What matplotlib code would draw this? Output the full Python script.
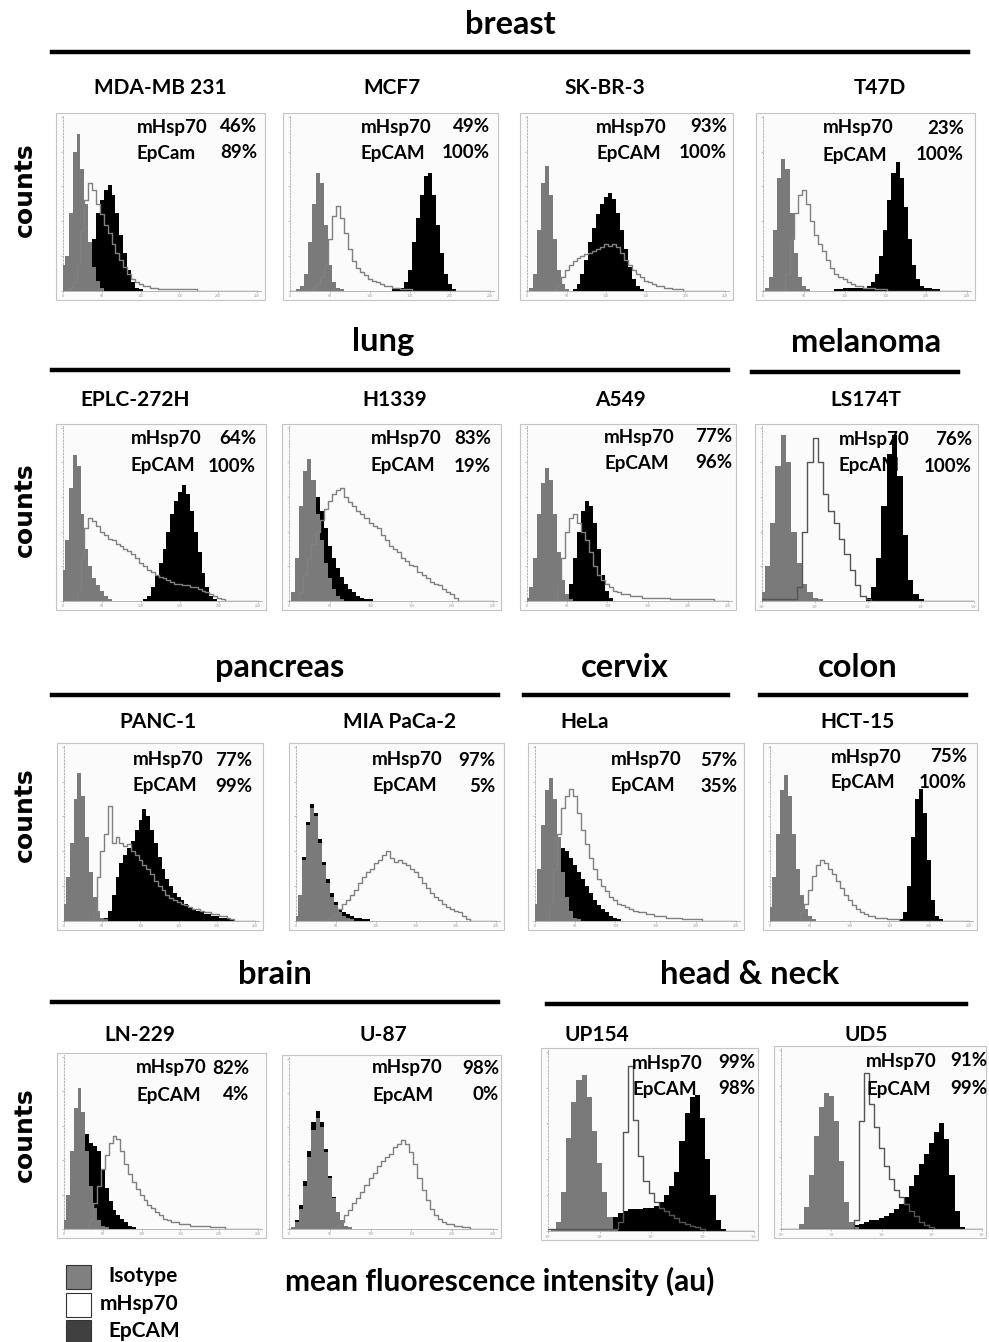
import numpy as np
import matplotlib.pyplot as plt
from matplotlib.patches import Rectangle
from matplotlib.lines import Line2D

plt.rcParams['font.family'] = ['Lato', 'DejaVu Sans']

W, H = 989, 1342

# histogram bins: linear panels 0..250 step 5, log panels 10^0..10^4 step 0.1 decade
lin_bins = np.arange(0, 251, 5)
log_bins = np.round(np.arange(0, 4.01, 0.1), 1)

# curve heights in % of the panel height, one value per bin (trailing zeros left out)
mda_iso = [15,20,45,80,90,70,50,28,14,6,2]
mda_hsp = [0,0,2,5,15,35,52,62,58,50,44,38,33,27,22,18,14,10,7,5,4,3,3,2,2,1,1,1,1,1,1,1,1,1,1]
mda_ep = [0,0,0,0,0,0,3,10,30,45,52,58,61,55,45,32,22,12,5,2,1]

mcf_iso = [0,0,1,3,10,28,50,68,62,38,15,5,2,1]
mcf_hsp = [0,0,0,0,0,0,2,4,8,15,30,43,49,42,33,24,17,13,11,9,7,6,5,4,3,3,2,2,1,1,1]
mcf_ep = [0,0,0,0,0,0,0,0,0,0,0,0,0,0,0,0,0,0,0,0,0,0,0,0,0,0,1,1,2,5,12,28,42,55,66,68,55,38,22,10,4,1]

sk_iso = [0,2,10,35,62,72,55,30,12,4,1]
sk_hsp = [0,0,0,0,0,0,0,1,4,8,12,15,17,19,20,21,22,23,24,25,27,26,27,25,22,18,15,12,10,8,6,5,4,3,3,2,2,1,1,1]
sk_ep = [0,0,0,0,0,0,0,0,0,0,0,0,1,4,10,18,28,36,44,50,54,56,53,45,35,24,14,7,3,1]

t47_iso = [0,2,8,35,65,76,70,45,22,8,3,1]
t47_hsp = [0,0,0,0,0,0,10,30,45,55,58,50,40,32,27,23,18,13,10,8,7,5,4,3,3,2,2,2,1,1,1]
t47_ep = [0,0,0,0,0,0,0,0,0,0,0,0,0,0,0,0,0,0,1,1,2,2,2,2,2,2,3,5,10,20,35,52,68,74,65,48,30,15,7,3,2,2,1,1]

eplc_iso = [18,35,65,84,78,50,30,20,13,9,6,3,1]
eplc_hsp = [0,0,0,0,5,25,42,48,46,43,40,38,36,35,33,32,30,29,27,25,22,20,18,17,15,14,13,12,11,10,10,9,9,8,8,7,6,5,4,3,2,1]
eplc_ep = [0,0,0,0,0,0,0,0,0,0,0,0,0,0,0,0,0,0,0,0,0,1,3,8,15,22,30,40,50,58,63,67,62,52,40,28,16,8,3,1]

h13_iso = [0,5,25,55,75,82,70,50,35,22,13,7,3,1]
h13_hsp = [0,0,0,5,15,25,33,40,47,53,58,62,64,65,60,57,55,52,50,48,45,43,42,38,35,32,30,28,25,23,21,20,17,15,13,11,10,9,7,5,4,2]
h13_ep = [0,0,15,40,60,70,68,60,52,42,32,25,19,14,10,7,5,3,2,1,1]

a549_iso = [2,8,25,50,68,77,70,50,28,12,4,1]
a549_hsp = [0,0,0,0,0,0,0,0,10,25,40,48,50,45,40,35,28,20,15,12,10,8,6,5,4,4,3,3,3,2,2,2,2,2,2,2,1,1,1,1,1,1,1,1,1,1,1]
a549_ep = [0,0,0,0,0,0,0,0,0,0,3,10,25,40,52,58,55,45,30,15,6,2]

ls_iso = [5,20,45,78,96,80,40,22,10,5,2,1]
ls_hsp = [1,1,1,1,1,1,1,8,40,80,94,80,62,52,45,36,27,18,9,3,1]
ls_ep = [0,0,0,0,0,0,0,0,0,0,0,0,0,0,0,0,0,0,0,0,2,8,25,55,85,96,72,38,12,4,1]

panc_iso = [10,25,45,70,85,72,48,28,14,6,2,1]
panc_hsp = [0,0,0,0,0,0,0,0,5,25,40,50,66,45,48,45,43,44,40,38,35,32,30,27,23,20,18,15,13,12,11,10,9,8,7,7,6,5,5,4,4,3,3,2,1]
panc_ep = [0,0,0,0,0,0,0,0,0,0,0,2,6,15,25,33,38,42,46,52,58,64,60,52,45,37,30,24,20,16,14,12,10,8,7,6,5,4,4,3,3,2,2,1,1]

mia_iso = [3,15,35,55,65,60,45,32,22,14,9,5,3,2,1]
mia_hsp = [0,0,0,0,0,0,0,0,1,2,4,7,10,12,15,18,22,25,28,30,33,35,38,40,36,34,35,33,32,30,28,25,22,19,16,14,12,10,8,7,6,5,3,1]
mia_ep = [3,15,37,57,67,62,47,34,24,16,11,7,5,4,3,2,2,1,1]

hela_iso = [10,30,55,75,82,70,48,28,14,6,2,1]
hela_hsp = [0,0,0,0,10,30,50,65,72,76,72,62,52,44,36,30,24,20,17,14,12,10,9,8,7,6,5,5,4,4,3,3,3,2,2,2,2,1,1,1,1,1]
hela_ep = [8,25,45,55,55,50,46,42,40,36,32,28,24,20,16,12,9,7,5,3,2,1]

hct_iso = [8,25,50,75,84,72,50,30,15,7,3,1]
hct_hsp = [0,0,0,0,0,0,0,0,5,10,18,26,32,35,33,30,27,23,19,15,12,9,7,5,4,3,3,2,2,2,1,1,1]
hct_ep = [0,0,0,0,0,0,0,0,0,0,0,0,0,0,0,0,0,0,0,0,0,0,0,0,0,0,0,0,0,0,0,0,0,1,5,20,48,70,76,62,35,12,3,1]

ln_iso = [5,20,45,70,82,68,45,25,12,5,2,1]
ln_hsp = [0,0,0,0,0,0,0,5,15,25,35,43,50,54,52,45,38,32,27,23,20,17,14,12,10,8,6,5,4,4,3,3,3,2,2,2,2,2,1,1,1,1]
ln_ep = [5,20,45,68,78,68,55,50,48,45,35,24,16,11,8,6,4,2,1]

u87_iso = [0,1,4,12,25,42,58,65,60,45,30,18,10,5,2,1]
u87_hsp = [0,0,0,0,0,0,0,0,0,0,0,1,2,4,8,11,15,18,22,26,30,33,37,40,42,44,48,50,52,50,45,38,30,23,17,12,8,6,4,3,3,2,2,1,1]
u87_ep = [0,1,5,14,28,46,63,69,63,47,31,19,10,5,2,1]

up_iso = [0,1,5,22,52,72,84,87,75,56,38,22,8,1]
up_hsp = [1,1,1,1,1,1,1,1,1,1,1,1,1,1,5,55,92,62,42,28,21,16,13,11,9,7,5,4,3,2,1]
up_ep = [0,0,0,0,0,0,0,0,0,0,1,3,5,8,10,11,12,12,12,13,13,14,16,20,25,33,50,66,75,76,63,40,20,6,1]

ud_iso = [0,0,0,0,3,12,30,52,68,76,74,60,38,15,4,1]
ud_hsp = [0,0,0,0,0,0,0,0,0,0,0,0,0,0,0,5,60,87,70,57,45,35,28,22,18,14,10,7,4,2,1]
ud_ep = [0,0,0,0,0,0,0,0,0,0,0,0,0,0,0,2,3,4,5,5,6,7,9,11,14,18,24,30,36,42,48,54,59,50,30,10,1]

cell_names = ['MDA-MB 231', 'MCF7', 'SK-BR-3', 'T47D',
              'EPLC-272H', 'H1339', 'A549', 'LS174T',
              'PANC-1', 'MIA PaCa-2', 'HeLa', 'HCT-15',
              'LN-229', 'U-87', 'UP154', 'UD5']
hsp_pct = ['46%', '49%', '93%', '23%', '64%', '83%', '77%', '76%',
           '77%', '97%', '57%', '75%', '82%', '98%', '99%', '91%']
ep_pct = ['89%', '100%', '100%', '100%', '100%', '19%', '96%', '100%',
          '99%', '5%', '35%', '100%', '4%', '0%', '98%', '99%']
ep_names = ['EpCam', 'EpCAM', 'EpCAM', 'EpCAM', 'EpCAM', 'EpCAM', 'EpCAM', 'EpcAM',
            'EpCAM', 'EpCAM', 'EpCAM', 'EpCAM', 'EpCAM', 'EpcAM', 'EpCAM', 'EpCAM']
iso_curves = [mda_iso, mcf_iso, sk_iso, t47_iso, eplc_iso, h13_iso, a549_iso, ls_iso,
              panc_iso, mia_iso, hela_iso, hct_iso, ln_iso, u87_iso, up_iso, ud_iso]
hsp_curves = [mda_hsp, mcf_hsp, sk_hsp, t47_hsp, eplc_hsp, h13_hsp, a549_hsp, ls_hsp,
              panc_hsp, mia_hsp, hela_hsp, hct_hsp, ln_hsp, u87_hsp, up_hsp, ud_hsp]
ep_curves = [mda_ep, mcf_ep, sk_ep, t47_ep, eplc_ep, h13_ep, a549_ep, ls_ep,
             panc_ep, mia_ep, hela_ep, hct_ep, ln_ep, u87_ep, up_ep, ud_ep]
log_panels = ['LS174T', 'UP154', 'UD5']

groups = ['breast', 'lung', 'melanoma', 'pancreas', 'cervix', 'colon', 'brain', 'head & neck']

# ---- layout (pixels) ----
frames = [(56, 113, 265, 300), (283, 113, 498, 300), (520, 113, 733, 300), (756, 113, 975, 300),
          (56, 424, 266, 610), (282, 424, 501, 610), (520, 424, 736, 610), (755, 424, 978, 610),
          (57, 743, 263, 930), (289, 743, 504, 930), (528, 743, 744, 930), (763, 743, 977, 930),
          (57, 1053, 266, 1238), (282, 1055, 501, 1238), (541, 1048, 758, 1240), (774, 1046, 986, 1238)]
name_pos = [(160, 88), (392, 88), (605, 88), (880, 88),
            (135, 400), (395, 400), (620, 400), (866, 400),
            (158, 722), (400, 722), (585, 722), (858, 722),
            (140, 1035), (383, 1035), (597, 1035), (866, 1035)]
# left x of labels, right x of percentages, y of the two lines
ann_pos = [(137, 257, 127, 153), (361, 490, 127, 153), (596, 727, 127, 153), (823, 964, 128, 155),
           (131, 256, 438, 466), (371, 491, 438, 466), (604, 732, 437, 463), (839, 972, 440, 466),
           (133, 252, 760, 786), (372, 495, 760, 786), (611, 737, 760, 786), (831, 967, 757, 783),
           (136, 249, 1068, 1095), (372, 499, 1068, 1095), (632, 755, 1063, 1089), (866, 987, 1061, 1089)]
group_pos = [(510, 25, 52, 968, 52), (383, 342, 52, 728, 370), (866, 342, 752, 958, 372),
             (280, 667, 52, 498, 695), (625, 667, 524, 728, 695), (858, 667, 760, 966, 695),
             (275, 975, 52, 498, 1002), (750, 975, 547, 966, 1004)]
counts_y = [190, 510, 815, 1135]

fig = plt.figure(figsize=(W / 100, H / 100), dpi=100)


def fx(x):
    return x / W


def fy(y):
    return 1 - y / H


def ftext(x, y, s, **kw):
    fig.text(fx(x), fy(y), s, va='center', **kw)


def pad(v, n):
    v = np.array(v, dtype=float)
    return np.concatenate([v, np.zeros(n - len(v))])


for i, name in enumerate(cell_names):
    l, t, r, b = frames[i]
    fig.patches.append(Rectangle((fx(l), fy(b)), (r - l) / W, (b - t) / H, transform=fig.transFigure,
                                 facecolor='#fbfbfb', edgecolor='#c4c4c4', lw=0.8, zorder=-5))
    ax = fig.add_axes([fx(l + 7), fy(b - 9), (r - l - 11) / W, (b - t - 11) / H])
    ax.set_facecolor('none')
    ax.set_zorder(1)
    if name in log_panels:
        x = 10 ** log_bins
        n = len(log_bins)
        ax.set_xscale('log')
        ax.set_xlim(1, 10 ** 4)
        ax.set_xticks([1, 10, 100, 1000, 10000])
        ax.set_xticklabels(['10$^0$', '10$^1$', '10$^2$', '10$^3$', '10$^4$'])
        line_col = '#555555'
    else:
        x = lin_bins
        n = len(lin_bins)
        ax.set_xlim(0, 255)
        ax.set_xticks([0, 50, 100, 150, 200, 250])
        line_col = '#808080'
    ax.fill_between(x, pad(ep_curves[i], n), step='mid', color='black', lw=0, zorder=2)
    ax.fill_between(x, pad(iso_curves[i], n), step='mid', color='#7a7a7a', lw=0, zorder=3)
    ax.step(x, pad(hsp_curves[i], n), where='mid', color=line_col, lw=1.0, zorder=4)
    ax.set_ylim(0, 101)
    ax.set_yticks([0, 20, 40, 60, 80, 100])
    ax.set_yticklabels([])
    ax.tick_params(labelsize=2.5, length=1.5, width=0.4, colors='#999999', pad=0.5)
    ax.tick_params(axis='x', which='minor', length=0)
    ax.spines['left'].set_linestyle((0, (2, 2)))
    for s in ax.spines.values():
        s.set_color('#aaaaaa')
        s.set_linewidth(0.6)
    ax.spines['top'].set_visible(False)
    ax.spines['right'].set_visible(False)

    ftext(name_pos[i][0], name_pos[i][1], name, ha='center', fontsize=15, fontweight='bold')
    lx, rx, y1, y2 = ann_pos[i]
    ftext(lx, y1, 'mHsp70', ha='left', fontsize=13.5, fontweight='bold', zorder=5)
    ftext(rx, y1, hsp_pct[i], ha='right', fontsize=13.5, fontweight='bold', zorder=5)
    ftext(lx, y2, ep_names[i], ha='left', fontsize=13.5, fontweight='bold', zorder=5)
    ftext(rx, y2, ep_pct[i], ha='right', fontsize=13.5, fontweight='bold', zorder=5)

for g, (cx, cy, x1, x2, ly) in zip(groups, group_pos):
    ftext(cx, cy, g, ha='center', fontsize=23.5, fontweight='bold')
    fig.add_artist(Line2D([fx(x1), fx(x2)], [fy(ly), fy(ly)], color='black', lw=3.2))

for cy in counts_y:
    fig.text(fx(25), fy(cy), 'counts', rotation=90, ha='center', va='center',
             fontsize=18, fontweight='bold', family='DejaVu Sans')

# legend
legend_items = ['Isotype', 'mHsp70', 'EpCAM']
legend_colors = ['#808080', 'white', '#404040']
legend_tops = [1265, 1293, 1320]
legend_text_x = [108, 100, 108]
for lab, col, tp, tx in zip(legend_items, legend_colors, legend_tops, legend_text_x):
    fig.patches.append(Rectangle((fx(66), fy(tp + 24)), 25 / W, 24 / H, transform=fig.transFigure,
                                 facecolor=col, edgecolor='#333333', lw=0.8))
    ftext(tx, tp + 11, lab, ha='left', fontsize=15, fontweight='bold')

ftext(500, 1281, 'mean fluorescence intensity (au)', ha='center', fontsize=21.5, fontweight='bold')

fig.savefig('out.png', dpi=100)
